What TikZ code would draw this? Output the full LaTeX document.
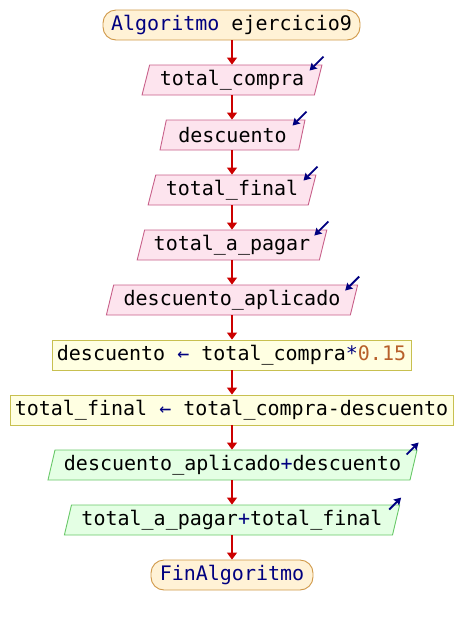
\documentclass[tikz,border=0pt]{standalone}
\usepackage{fontspec}
\setmonofont{DejaVu Sans Mono}
\usetikzlibrary{shapes.geometric,arrows.meta}
\definecolor{kw}{HTML}{000080}
\definecolor{num}{HTML}{B8602A}
\definecolor{flow}{HTML}{CC0000}
\definecolor{termfill}{HTML}{FFF2D6}
\definecolor{termdraw}{HTML}{D09848}
\definecolor{infill}{HTML}{FDE4EE}
\definecolor{indraw}{HTML}{C8608A}
\definecolor{asgfill}{HTML}{FFFFE2}
\definecolor{asgdraw}{HTML}{C8C050}
\definecolor{outfill}{HTML}{E4FFE4}
\definecolor{outdraw}{HTML}{68C868}
\tikzset{
  every node/.style={font=\ttfamily\fontsize{20}{24}\selectfont, inner sep=0pt, minimum height=30pt},
  term/.style={rectangle, rounded corners=13pt, draw=termdraw, fill=termfill, line width=0.9pt},
  para/.style={trapezium, trapezium left angle=71.57, trapezium right angle=108.43,
               trapezium stretches=true, line width=0.9pt},
  inbox/.style={para, draw=indraw, fill=infill},
  outbox/.style={para, draw=outdraw, fill=outfill},
  asgbox/.style={rectangle, draw=asgdraw, fill=asgfill, line width=0.9pt},
  flowline/.style={draw=flow, line width=1.5pt, -{Triangle[width=10pt,length=7pt]}},
  ioarrow/.style={draw=kw, line width=1.8pt, -{Stealth[width=8pt,length=7pt,inset=1pt]}}
}
\begin{document}
\begin{tikzpicture}[x=1pt,y=-1pt]
\useasboundingbox (0,0) rectangle (464,625);
% nodes of the flowchart
\node[term, minimum width=257pt] (start) at (231.5,25) {\textcolor{kw}{Algoritmo} ejercicio9};
\node[inbox, minimum width=180pt] (in1) at (232,80) {total\_compra};
\node[inbox, minimum width=145pt] (in2) at (232.5,135) {descuento};
\node[inbox, minimum width=168pt] (in3) at (232,190) {total\_final};
\node[inbox, minimum width=190pt] (in4) at (232,245) {total\_a\_pagar};
\node[inbox, minimum width=252pt] (in5) at (232,300) {descuento\_aplicado};
\node[asgbox, minimum width=359pt] (as1) at (231.5,355) {descuento \textcolor{kw}{←} total\_compra\textcolor{kw}{*}\textcolor{num}{0.15}};
\node[asgbox, minimum width=443pt] (as2) at (231.5,410) {total\_final \textcolor{kw}{←} total\_compra-descuento};
\node[outbox, minimum width=371pt] (out1) at (232.5,465) {descuento\_aplicado\textcolor{kw}{+}descuento};
\node[outbox, minimum width=336pt] (out2) at (232,520) {total\_a\_pagar\textcolor{kw}{+}total\_final};
\node[term, minimum width=162pt] (stop) at (232,575) {\textcolor{kw}{FinAlgoritmo}};
% flow connectors
\foreach \a/\b in {start/in1, in1/in2, in2/in3, in3/in4, in4/in5, in5/as1, as1/as2, as2/out1, out1/out2, out2/stop}
  \draw[flowline] (\a.south -| 232,0) -- (\b.north -| 232,0);
% read / write markers
\foreach \n in {in1,in2,in3,in4,in5}
  \draw[ioarrow] ([shift={(1,-8)}]\n.top right corner) -- ([shift={(-13,6)}]\n.top right corner);
\foreach \n in {out1,out2}
  \draw[ioarrow] ([shift={(-11,5)}]\n.top right corner) -- ([shift={(1,-7)}]\n.top right corner);
\end{tikzpicture}
\end{document}
